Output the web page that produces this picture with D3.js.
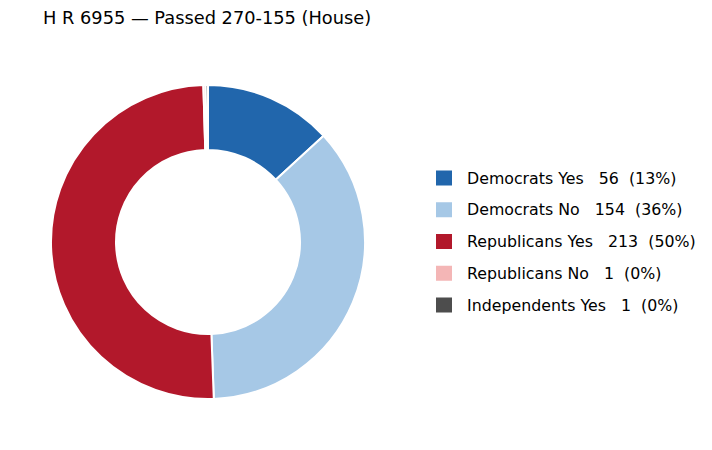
<!DOCTYPE html>
<html><head><meta charset="utf-8">
<script src="https://cdn.jsdelivr.net/npm/d3@7"></script>
<style>body{margin:0;background:#fff}svg{display:block;font-family:"DejaVu Sans",sans-serif}</style>
</head><body>
<svg id="c" width="712" height="450"></svg>
<script>
const title = "H R 6955 — Passed 270-155 (House)";
const categories = ["Democrats Yes","Democrats No","Republicans Yes","Republicans No","Independents Yes"];
const values = [56,154,213,1,1];
const colors = ["#2166ac","#a6c8e6","#b2182b","#f4b6b6","#4d4d4d"];

const svg = d3.select("#c");
const total = d3.sum(values);
const data = categories.map((c,i)=>({name:c,value:values[i],color:colors[i]}));

svg.append("text").attr("x",43).attr("y",24).attr("font-size",17.8).attr("fill","#000").text(title);

const cx=208, cy=242, R=157, r=92;
const pie = d3.pie().sort(null).value(d=>d.value).startAngle(0).endAngle(2*Math.PI);
const arc = d3.arc().innerRadius(r).outerRadius(R);
const g = svg.append("g").attr("transform",`translate(${cx},${cy})`);
g.selectAll("path").data(pie(data)).join("path")
  .attr("d",arc).attr("fill",d=>d.data.color)
  .attr("stroke","#fff").attr("stroke-width",2).attr("stroke-linejoin","round");

const leg = svg.append("g");
const rowY = d3.scaleLinear().domain([0,4]).range([178,305]);
data.forEach((d,i)=>{
  const y=rowY(i);
  leg.append("rect").attr("x",436).attr("y",y-7.5).attr("width",16).attr("height",15).attr("fill",d.color);
  const pct = Math.round(d.value/total*100);
  leg.append("text").attr("x",467).attr("y",y+5.5).attr("font-size",15.8).attr("fill","#000")
    .attr("xml:space","preserve").style("white-space","pre")
    .text(`${d.name}   ${d.value}  (${pct}%)`);
});
</script>
</body></html>
